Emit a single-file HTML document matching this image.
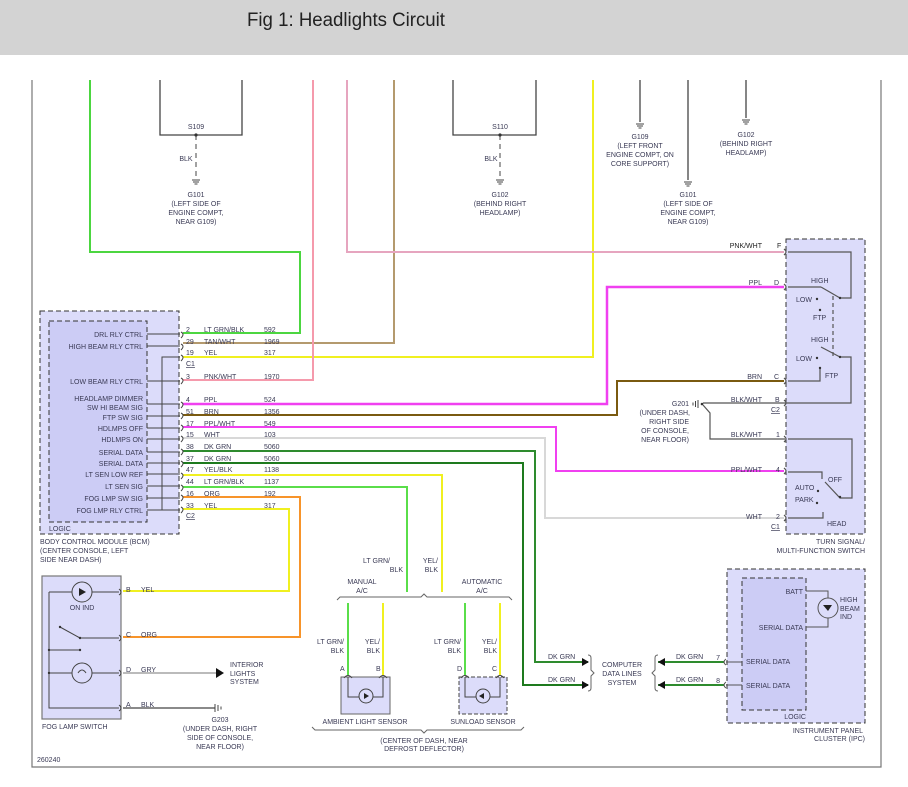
<!DOCTYPE html>
<html><head><meta charset="utf-8"><style>
html,body{margin:0;padding:0;background:#fff;}
svg{display:block;font-family:"Liberation Sans",sans-serif;}
text{font-size:7px;fill:#3a3a55;}
.r{text-anchor:end}.m{text-anchor:middle}
</style></head><body>
<svg width="908" height="787" viewBox="0 0 908 787" xmlns="http://www.w3.org/2000/svg">
<rect x="0" y="0" width="908" height="55" fill="#d3d3d3"/>
<text x="247" y="26" style="font-size:19px;fill:#222;font-family:'Liberation Sans Narrow','Liberation Sans',sans-serif" textLength="198" lengthAdjust="spacingAndGlyphs">Fig 1: Headlights Circuit</text>
<!-- frame -->
<path d="M32 80 V767 H881 V80" fill="none" stroke="#777" stroke-width="1.2"/>

<!-- top splices -->
<g fill="none" stroke="#444" stroke-width="1.3">
<path d="M160 80 V135 H242 V80"/><path d="M453 80 V135 H536 V80"/>
<path d="M640 80 V122"/><path d="M688 80 V180"/><path d="M746 80 V118"/>
</g>
<g stroke="#444" stroke-width="1" stroke-dasharray="5,4"><path d="M196 135 V178"/><path d="M500 135 V178"/></g>
<circle cx="196" cy="135" r="1.6" fill="#333"/><circle cx="500" cy="135" r="1.6" fill="#333"/>
<g stroke="#444" stroke-width="1">
<path d="M192 180h8M193 182h6M194.5 184h3"/><path d="M496 180h8M497 182h6M498.5 184h3"/>
<path d="M636 124h8M637 126h6M638.5 128h3"/><path d="M684 182h8M685 184h6M686.5 186h3"/><path d="M742 120h8M743 122h6M744.5 124h3"/>
</g>
<text x="196" y="129" class="m">S109</text><text x="500" y="129" class="m">S110</text>
<rect x="178" y="154" width="14" height="9" fill="#fff"/><text x="186" y="161" class="m">BLK</text>
<rect x="482" y="154" width="14" height="9" fill="#fff"/><text x="491" y="161" class="m">BLK</text>
<text x="196" y="197" class="m">G101</text><text x="196" y="206" class="m">(LEFT SIDE OF</text><text x="196" y="215" class="m">ENGINE COMPT,</text><text x="196" y="224" class="m">NEAR G109)</text>
<text x="500" y="197" class="m">G102</text><text x="500" y="206" class="m">(BEHIND RIGHT</text><text x="500" y="215" class="m">HEADLAMP)</text>
<text x="640" y="139" class="m">G109</text><text x="640" y="148" class="m">(LEFT FRONT</text><text x="640" y="157" class="m">ENGINE COMPT, ON</text><text x="640" y="166" class="m">CORE SUPPORT)</text>
<text x="688" y="197" class="m">G101</text><text x="688" y="206" class="m">(LEFT SIDE OF</text><text x="688" y="215" class="m">ENGINE COMPT,</text><text x="688" y="224" class="m">NEAR G109)</text>
<text x="746" y="137" class="m">G102</text><text x="746" y="146" class="m">(BEHIND RIGHT</text><text x="746" y="155" class="m">HEADLAMP)</text>

<!-- wires -->
<g fill="none" stroke-width="2">
<path d="M90 80 V252 H300 V333 H183" stroke="#4cd640"/>
<path d="M394 80 V343 H183" stroke="#b49a6e"/>
<path d="M593 80 V357 H183" stroke="#f0f020"/>
<path d="M313 80 V380 H183" stroke="#f59aac"/>
<path d="M347 80 V252 H784" stroke="#e6a5bf"/>
<path d="M183 404 H607 V287 H784" stroke="#f040f0" stroke-width="2.5"/>
<path d="M183 415 H617 V381 H784" stroke="#7a5a10"/>
<path d="M183 427 H556 V471 H784" stroke="#f040f0"/>
<path d="M183 438 H545 V518 H784" stroke="#d8d8d8"/>
<path d="M183 451 H535 V662 H588" stroke="#2e8b2e"/>
<path d="M183 463 H523 V685 H588" stroke="#1e7a1e"/>
<path d="M183 475 H442 V592" stroke="#f0f020"/>
<path d="M183 487 H407 V592" stroke="#5ade4a"/>
<path d="M183 497 H300 V637 H123" stroke="#f7942a"/>
<path d="M183 509 H289 V591 H123" stroke="#f0f020"/>
<path d="M123 673 H216" stroke="#bbb"/>
<path d="M123 708 H215" stroke="#444" stroke-width="1.3"/>
<path d="M348 603 V675" stroke="#5ade4a"/><path d="M383 603 V675" stroke="#f0f020"/>
<path d="M465 603 V675" stroke="#5ade4a"/><path d="M500 603 V675" stroke="#f0f020"/>
<path d="M658 662 H724" stroke="#2e8b2e"/><path d="M658 685 H724" stroke="#2e8b2e"/>
</g>
<path d="M216 668 L224 673 L216 678Z" fill="#111"/>
<path d="M582 658 L589 662 L582 666Z" fill="#111"/><path d="M582 681 L589 685 L582 689Z" fill="#111"/>
<path d="M665 658 L658 662 L665 666Z" fill="#111"/><path d="M665 681 L658 685 L665 689Z" fill="#111"/>
<g stroke="#444" stroke-width="1"><path d="M215 704v8M218 705v6M221 706.5v3"/></g>

<!-- BCM -->
<rect x="40" y="311" width="139" height="223" fill="#dcdcfa" stroke="#333" stroke-dasharray="5,3"/>
<rect x="49" y="321" width="98" height="201" fill="#ccccf5" stroke="#333" stroke-dasharray="5,3"/>
<g stroke="#444" stroke-width="1" fill="none">
<path d="M147 334H180M147 346H180M147 381H180M147 404H180M147 416H180M147 428H180M147 439H180M147 452H180M147 463H180M147 474H180M147 486H180M147 498H180M147 510H180"/>
<path d="M162 510V357H180"/>
<path d="M181 332q4 2 0 6M181 344q4 2 0 6M181 355q4 2 0 6M181 378q4 2 0 6M181 402q4 2 0 6M181 413q4 2 0 6M181 425q4 2 0 6M181 436q4 2 0 6M181 449q4 2 0 6M181 461q4 2 0 6M181 473q4 2 0 6M181 485q4 2 0 6M181 495q4 2 0 6M181 507q4 2 0 6"/>
</g>
<g class="r">
<text x="143" y="337" class="r">DRL RLY CTRL</text><text x="143" y="349" class="r">HIGH BEAM RLY CTRL</text>
<text x="143" y="384" class="r">LOW BEAM RLY CTRL</text><text x="143" y="401" class="r">HEADLAMP DIMMER</text>
<text x="143" y="410" class="r">SW HI BEAM SIG</text><text x="143" y="420" class="r">FTP SW SIG</text>
<text x="143" y="431" class="r">HDLMPS OFF</text><text x="143" y="442" class="r">HDLMPS ON</text>
<text x="143" y="455" class="r">SERIAL DATA</text><text x="143" y="466" class="r">SERIAL DATA</text>
<text x="143" y="477" class="r">LT SEN LOW REF</text><text x="143" y="489" class="r">LT SEN SIG</text>
<text x="143" y="501" class="r">FOG LMP SW SIG</text><text x="143" y="513" class="r">FOG LMP RLY CTRL</text>
</g>
<text x="49" y="531">LOGIC</text>
<text x="40" y="544">BODY CONTROL MODULE (BCM)</text><text x="40" y="553">(CENTER CONSOLE, LEFT</text><text x="40" y="562">SIDE NEAR DASH)</text>
<g>
<text x="186" y="332">2</text><text x="204" y="332">LT GRN/BLK</text><text x="264" y="332">592</text>
<text x="186" y="344">29</text><text x="204" y="344">TAN/WHT</text><text x="264" y="344">1969</text>
<text x="186" y="355">19</text><text x="204" y="355">YEL</text><text x="264" y="355">317</text>
<text x="186" y="366" text-decoration="underline">C1</text>
<text x="186" y="379">3</text><text x="204" y="379">PNK/WHT</text><text x="264" y="379">1970</text>
<text x="186" y="402">4</text><text x="204" y="402">PPL</text><text x="264" y="402">524</text>
<text x="186" y="414">51</text><text x="204" y="414">BRN</text><text x="264" y="414">1356</text>
<text x="186" y="426">17</text><text x="204" y="426">PPL/WHT</text><text x="264" y="426">549</text>
<text x="186" y="437">15</text><text x="204" y="437">WHT</text><text x="264" y="437">103</text>
<text x="186" y="449">38</text><text x="204" y="449">DK GRN</text><text x="264" y="449">5060</text>
<text x="186" y="461">37</text><text x="204" y="461">DK GRN</text><text x="264" y="461">5060</text>
<text x="186" y="472">47</text><text x="204" y="472">YEL/BLK</text><text x="264" y="472">1138</text>
<text x="186" y="484">44</text><text x="204" y="484">LT GRN/BLK</text><text x="264" y="484">1137</text>
<text x="186" y="496">16</text><text x="204" y="496">ORG</text><text x="264" y="496">192</text>
<text x="186" y="508">33</text><text x="204" y="508">YEL</text><text x="264" y="508">317</text>
<text x="186" y="518" text-decoration="underline">C2</text>
</g>

<!-- Turn signal switch -->
<rect x="786" y="239" width="79" height="295" fill="#dcdcfa" stroke="#333" stroke-dasharray="5,3"/>
<g stroke="#555" stroke-width="1.2" fill="none">
<path d="M784 249q4 3 0 6M784 284q4 3 0 6M784 378q4 3 0 6M784 400q4 3 0 6M784 436q4 3 0 6M784 468q4 3 0 6M784 515q4 3 0 6"/>
<path d="M788 252H851V298H840"/><path d="M788 287H821"/><path d="M840 298L821 287"/>
<path d="M840 357L821 347"/><path d="M840 357H851V403H703"/><path d="M820 368V381H788"/>
<path d="M833 296V357" stroke-dasharray="4,3"/>
<path d="M788 439H852V498H840L825 482"/><path d="M788 472H822V479"/><path d="M788 518H823V512"/>
<path d="M703 405L710 413V439H785"/>
</g>
<g fill="#333"><circle cx="817" cy="299" r="1.2"/><circle cx="820" cy="310" r="1.2"/><circle cx="817" cy="358" r="1.2"/><circle cx="820" cy="368" r="1.2"/><circle cx="818" cy="491" r="1.2"/><circle cx="817" cy="503" r="1.2"/><circle cx="840" cy="298" r="1.2"/><circle cx="840" cy="357" r="1.2"/><circle cx="840" cy="497" r="1.2"/><circle cx="702" cy="404" r="1.3"/></g>
<g stroke="#444"><path d="M698 400v8M695.5 401v6M693 402.5v3"/></g>
<text x="811" y="283">HIGH</text><text x="796" y="302">LOW</text><text x="813" y="320">FTP</text>
<text x="811" y="342">HIGH</text><text x="796" y="361">LOW</text><text x="825" y="378">FTP</text>
<text x="828" y="482">OFF</text><text x="795" y="490">AUTO</text><text x="795" y="502">PARK</text><text x="827" y="526">HEAD</text>
<text x="762" y="248" class="r" style="fill:#222">PNK/WHT</text><text x="777" y="248" style="fill:#222">F</text>
<text x="762" y="285" class="r">PPL</text><text x="774" y="285">D</text>
<text x="762" y="379" class="r">BRN</text><text x="774" y="379">C</text>
<text x="762" y="402" class="r">BLK/WHT</text><text x="775" y="402">B</text><text x="771" y="412" text-decoration="underline">C2</text>
<text x="762" y="437" class="r">BLK/WHT</text><text x="776" y="437">1</text>
<text x="762" y="472" class="r">PPL/WHT</text><text x="776" y="472">4</text>
<text x="762" y="519" class="r">WHT</text><text x="776" y="519">2</text><text x="771" y="529" text-decoration="underline">C1</text>
<text x="689" y="406" class="r">G201</text><text x="690" y="415" class="r">(UNDER DASH,</text><text x="689" y="424" class="r">RIGHT SIDE</text><text x="689" y="433" class="r">OF CONSOLE,</text><text x="689" y="442" class="r">NEAR FLOOR)</text>
<text x="865" y="544" class="r">TURN SIGNAL/</text><text x="865" y="553" class="r">MULTI-FUNCTION SWITCH</text>

<!-- Fog lamp switch -->
<rect x="42" y="576" width="79" height="143" fill="#dcdcfa" stroke="#777" stroke-width="1.2"/>
<g stroke="#444" stroke-width="1" fill="none">
<path d="M49 592H119M49 592V708H119M49 673H119M49 650H80M80 638H119M80 638L60 627"/>
<path d="M119 589q4 3 0 6M119 635q4 3 0 6M119 670q4 3 0 6M119 705q4 3 0 6"/>
<circle cx="82" cy="592" r="10" fill="#dcdcfa"/><circle cx="82" cy="673" r="10" fill="#dcdcfa"/>
<path d="M78 673q4-6 8 0"/>
</g>
<path d="M79 588L86 592L79 596Z" fill="#222"/>
<g fill="#333"><circle cx="49" cy="650" r="1.2"/><circle cx="80" cy="650" r="1.2"/><circle cx="49" cy="673" r="1.2"/><circle cx="60" cy="627" r="1.2"/><circle cx="80" cy="638" r="1.2"/></g>
<text x="82" y="610" class="m">ON IND</text>
<text x="126" y="592">B</text><text x="141" y="592">YEL</text>
<text x="126" y="637">C</text><text x="141" y="637">ORG</text>
<text x="126" y="672">D</text><text x="141" y="672">GRY</text>
<text x="126" y="707">A</text><text x="141" y="707">BLK</text>
<text x="230" y="667">INTERIOR</text><text x="230" y="676">LIGHTS</text><text x="230" y="684">SYSTEM</text>
<text x="220" y="722" class="m">G203</text><text x="220" y="731" class="m">(UNDER DASH, RIGHT</text><text x="220" y="740" class="m">SIDE OF CONSOLE,</text><text x="220" y="749" class="m">NEAR FLOOR)</text>
<text x="42" y="729">FOG LAMP SWITCH</text>
<text x="37" y="762">260240</text>

<!-- sensors -->
<g fill="none" stroke="#666" stroke-width="1">
<path d="M337 600l3-3H421l3-3 3 3H509l3 3"/>
<path d="M312 727l3 3H421l3 3 3-3H521l3-3"/>
</g>
<text x="390" y="563" class="r">LT GRN/</text><text x="403" y="572" class="r">BLK</text>
<text x="438" y="563" class="r">YEL/</text><text x="438" y="572" class="r">BLK</text>
<text x="362" y="584" class="m">MANUAL</text><text x="362" y="593" class="m">A/C</text>
<text x="482" y="584" class="m">AUTOMATIC</text><text x="482" y="593" class="m">A/C</text>
<text x="344" y="644" class="r">LT GRN/</text><text x="344" y="653" class="r">BLK</text>
<text x="380" y="644" class="r">YEL/</text><text x="380" y="653" class="r">BLK</text>
<text x="461" y="644" class="r">LT GRN/</text><text x="461" y="653" class="r">BLK</text>
<text x="497" y="644" class="r">YEL/</text><text x="497" y="653" class="r">BLK</text>
<text x="340" y="671">A</text><text x="376" y="671">B</text><text x="457" y="671">D</text><text x="492" y="671">C</text>
<rect x="341" y="677" width="49" height="37" fill="#dcdcfa" stroke="#666"/>
<rect x="459" y="677" width="48" height="37" fill="#dcdcfa" stroke="#444" stroke-dasharray="4,2"/>
<g fill="none" stroke="#444" stroke-width="1">
<path d="M348 677V697H383V677M465 677V697H500V677"/>
<path d="M344 678q4-5 8 0M379 678q4-5 8 0M461 678q4-5 8 0M496 678q4-5 8 0"/>
<circle cx="366" cy="696" r="7" fill="#dcdcfa"/><circle cx="483" cy="696" r="7" fill="#dcdcfa"/>
</g>
<path d="M364 693L369 696L364 699Z M484 693L479 696L484 699Z" fill="#222"/>
<text x="365" y="724" class="m">AMBIENT LIGHT SENSOR</text><text x="483" y="724" class="m">SUNLOAD SENSOR</text>
<text x="424" y="743" class="m">(CENTER OF DASH, NEAR</text><text x="424" y="751" class="m">DEFROST DEFLECTOR)</text>

<!-- data lines -->
<g fill="none" stroke="#666" stroke-width="1">
<path d="M588 655q3 0 3 3V670l3 3-3 3V688q0 3-3 3"/>
<path d="M658 655q-3 0-3 3V670l-3 3 3 3V688q0 3 3 3"/>
</g>
<text x="548" y="659">DK GRN</text><text x="548" y="682">DK GRN</text>
<text x="676" y="659">DK GRN</text><text x="676" y="682">DK GRN</text>
<text x="622" y="667" class="m">COMPUTER</text><text x="622" y="676" class="m">DATA LINES</text><text x="622" y="685" class="m">SYSTEM</text>

<!-- IPC -->
<rect x="727" y="569" width="138" height="154" fill="#dcdcfa" stroke="#333" stroke-dasharray="5,3"/>
<rect x="742" y="578" width="64" height="132" fill="#ccccf5" stroke="#333" stroke-dasharray="5,3"/>
<g fill="none" stroke="#555" stroke-width="1">
<path d="M726 662H742M726 685H742M806 591H828V627H806"/>
<path d="M726 659q-4 3 0 6M726 682q-4 3 0 6"/>
<circle cx="828" cy="608" r="10" fill="#dcdcfa"/>
</g>
<path d="M823 605H832L828 611Z" fill="#222"/>
<text x="720" y="660" class="r">7</text><text x="720" y="683" class="r">8</text>
<text x="803" y="594" class="r">BATT</text><text x="803" y="630" class="r">SERIAL DATA</text>
<text x="746" y="664">SERIAL DATA</text><text x="746" y="688">SERIAL DATA</text>
<text x="840" y="602">HIGH</text><text x="840" y="611">BEAM</text><text x="840" y="619">IND</text>
<text x="806" y="719" class="r">LOGIC</text>
<text x="863" y="733" class="r">INSTRUMENT PANEL</text><text x="865" y="741" class="r">CLUSTER (IPC)</text>
</svg>
</body></html>
